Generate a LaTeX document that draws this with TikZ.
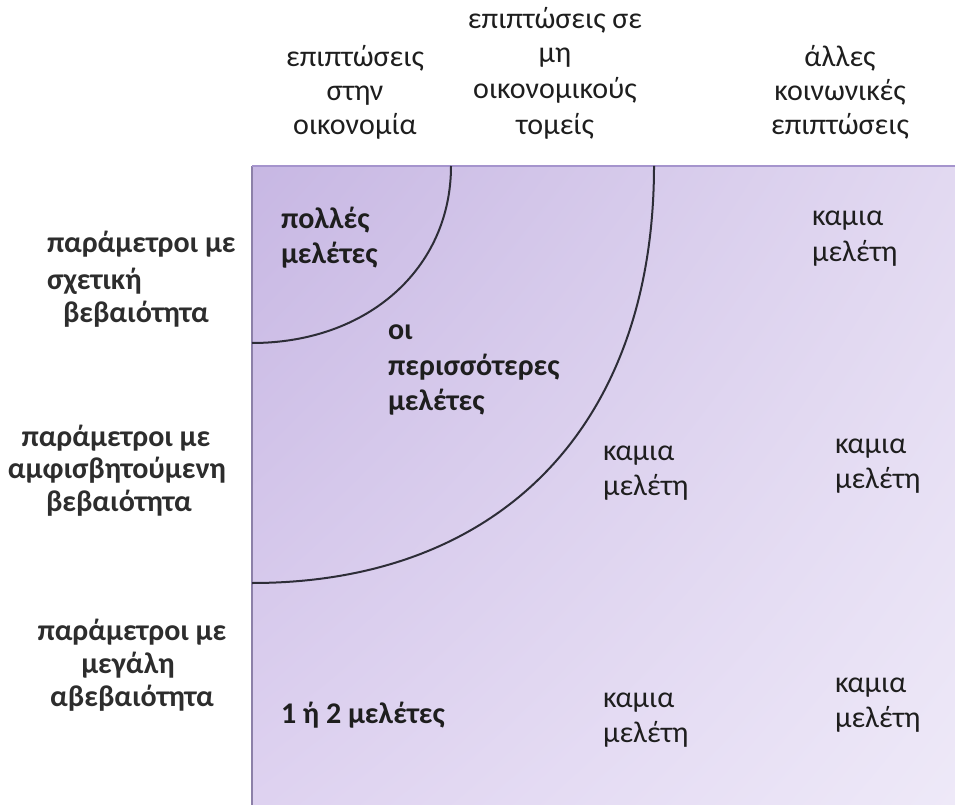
\documentclass[tikz,border=0pt]{standalone}
\usepackage{fontspec}
\setmainfont{Carlito}
\usetikzlibrary{shadings}
\definecolor{cUL}{RGB}{199,183,227}
\definecolor{cUR}{RGB}{226,217,241}
\definecolor{cLL}{RGB}{222,210,240}
\definecolor{cLR}{RGB}{238,233,248}
\definecolor{topline}{RGB}{165,148,205}
\definecolor{leftline}{RGB}{140,128,168}
\definecolor{arcc}{RGB}{45,45,55}
\definecolor{txt}{RGB}{30,30,30}
\definecolor{lbltxt}{RGB}{45,45,45}
\begin{document}
\begin{tikzpicture}[x=0.75pt,y=-0.75pt,
  every node/.style={inner sep=0pt, outer sep=0pt, text=txt, font=\fontsize{22.5}{26}\selectfont},
  head/.style={anchor=base},
  rowlbl/.style={text=lbltxt, font=\fontsize{22.5}{26}\selectfont\bfseries},
  cellb/.style={anchor=base west, font=\fontsize{22.5}{26}\selectfont\bfseries},
  cell/.style={anchor=base west},
  arcline/.style={draw=arcc, line width=1.5pt}]
\useasboundingbox (0,0) rectangle (955,805);
\shade[upper left=cUL, upper right=cUR, lower left=cLL, lower right=cLR] (252,166) rectangle (955,805);
\coordinate (tl) at (252,166);
\coordinate (tr) at (955,166);
\coordinate (bl) at (252,805);
\draw[leftline, line width=1.6pt] (tl) -- (bl);
\draw[topline, line width=2pt] (tl) -- (tr);
% arcs
\coordinate (a1s) at (451,166);
\coordinate (a1e) at (252,343);
\coordinate (a2s) at (654,166);
\coordinate (a2e) at (252,583);
\draw[arcline] (a1s) .. controls (451,268.7) and (367.4,343) .. (a1e);
\draw[arcline] (a2s) .. controls (654,424.5) and (501.2,583) .. (a2e);
% headings
\node[head] (h1a) at (355,67) {επιπτώσεις};
\node[head] (h1b) at (355,101) {στην};
\node[head] (h1c) at (355,135) {οικονομία};
\node[head] (h2a) at (555,29) {επιπτώσεις σε};
\node[head] (h2b) at (555,63) {μη};
\node[head] (h2c) at (555,99) {οικονομικούς};
\node[head] (h2d) at (555,135) {τομείς};
\node[head] (h3a) at (840,67) {άλλες};
\node[head] (h3b) at (840,101) {κοινωνικές};
\node[head] (h3c) at (840,135) {επιπτώσεις};
% row labels
\node[rowlbl, anchor=base west] (r1a) at (47,253) {παράμετροι με};
\node[rowlbl, anchor=base west] (r1b) at (47,289) {σχετική};
\node[rowlbl, anchor=base] (r1c) at (136,322) {βεβαιότητα};
\node[rowlbl, anchor=base] (r2a) at (116,446) {παράμετροι με};
\node[rowlbl, anchor=base] (r2b) at (117,478) {αμφισβητούμενη};
\node[rowlbl, anchor=base] (r2c) at (119,511) {βεβαιότητα};
\node[rowlbl, anchor=base] (r3a) at (132,640) {παράμετροι με};
\node[rowlbl, anchor=base] (r3b) at (128,673) {μεγάλη};
\node[rowlbl, anchor=base] (r3c) at (132,706) {αβεβαιότητα};
% cells
\node[cellb] (c11a) at (281,229) {πολλές};
\node[cellb] (c11b) at (281,264) {μελέτες};
\node[cellb] (c12a) at (388,339) {οι};
\node[cellb] (c12b) at (388,375) {περισσότερες};
\node[cellb] (c12c) at (388,410) {μελέτες};
\node[cellb] (c31) at (281,723) {1 ή 2 μελέτες};
\node[cell] (c13a) at (812,226) {καμια};
\node[cell] (c13b) at (812,262) {μελέτη};
\node[cell] (c22a) at (603,460) {καμια};
\node[cell] (c22b) at (603,495) {μελέτη};
\node[cell] (c23a) at (835,453) {καμια};
\node[cell] (c23b) at (835,488) {μελέτη};
\node[cell] (c32a) at (603,707) {καμια};
\node[cell] (c32b) at (603,742) {μελέτη};
\node[cell] (c33a) at (835,692) {καμια};
\node[cell] (c33b) at (835,727) {μελέτη};
\end{tikzpicture}
\end{document}
